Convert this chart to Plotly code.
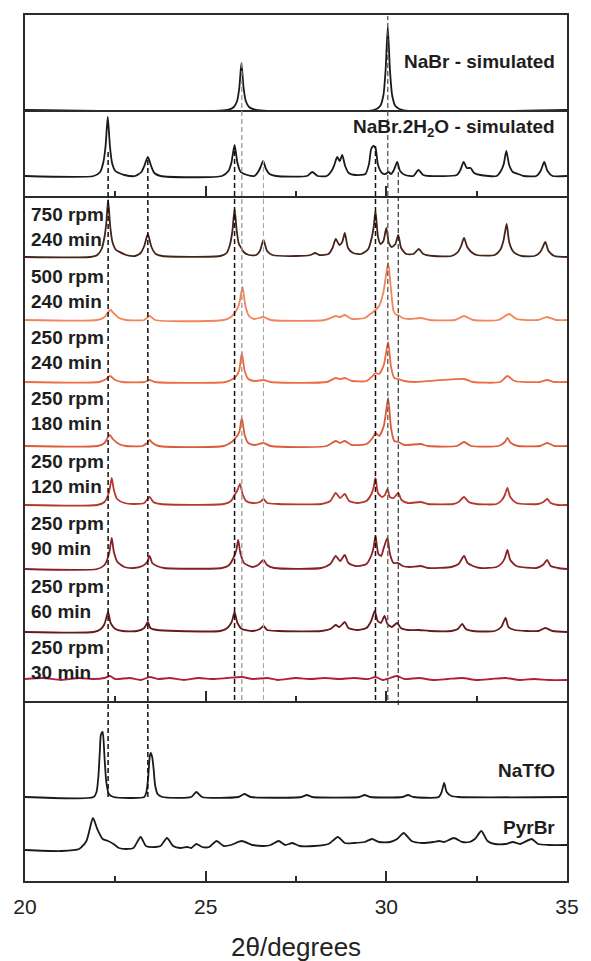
import plotly.graph_objects as go

# ---------------- data (2theta, intensity above each pattern's own baseline, a.u.) ----------------
NABR_SIM = [(20,0),(25.6,0),(25.78,3),(25.87,9),(25.93,22),(25.99,47),(26.05,22),(26.11,9),(26.2,3),(26.4,0),
            (29.65,0),(29.83,4),(29.92,15),(29.98,40),(30.04,83),(30.1,40),(30.16,15),(30.25,4),(30.45,0),(35,0)]

HYDRATE_SIM = [(20,0),(21.9,0),(22.08,4),(22.17,14),(22.23,30),(22.29,59),(22.35,30),(22.41,13),(22.5,5),
               (22.6,3),(22.75,1),(23.05,0),(23.22,4),(23.3,10),(23.4,19),(23.5,9),(23.58,3),(23.75,0),
               (25.45,0),(25.63,5),(25.71,13),(25.8,31),(25.88,13),(25.97,4),(26.15,1),(26.35,0),(26.45,4),
               (26.52,9),(26.59,15),(26.67,7),(26.77,2),(26.95,0),(27.8,0),(27.95,4),(28.1,0),(28.35,0),
               (28.5,6),(28.57,12),(28.64,19),(28.71,15),(28.78,21),(28.86,10),(28.96,3),(29.15,1),(29.42,2),
               (29.52,12),(29.58,27),(29.64,30),(29.7,28),(29.77,11),(29.88,3),(29.98,2),(30.06,4),(30.13,2),
               (30.21,6),(30.3,14),(30.38,5),(30.52,1),(30.75,0),(30.89,6),(31.02,1),(31.2,0),(31.95,1),
               (32.05,6),(32.14,14),(32.23,8),(32.33,8),(32.43,3),(32.6,1),(33.05,0),(33.17,5),(33.25,12),
               (33.32,25),(33.4,11),(33.5,4),(33.65,2),(33.8,0),(34.15,0),(34.27,5),(34.37,14),(34.46,5),
               (34.6,0),(35,0)]

RPM750_240 = [(20,0),(21.8,0),(22.0,2),(22.12,8),(22.2,20),(22.25,34),(22.3,57),(22.36,30),(22.42,15),
              (22.52,7),(22.62,5),(22.8,2),(23.05,1),(23.2,4),(23.3,11),(23.4,23),(23.5,10),(23.62,3),(23.8,1),
              (25.4,1),(25.58,4),(25.67,12),(25.74,26),(25.8,48),(25.86,26),(25.92,13),(25.97,10),(26.05,5),
              (26.2,2),(26.4,2),(26.5,6),(26.6,17),(26.7,6),(26.85,2),(27.5,1),(27.9,2),(28.03,4),(28.15,2),
              (28.4,3),(28.51,9),(28.6,18),(28.7,12),(28.78,15),(28.85,24),(28.94,9),(29.08,4),(29.3,3),
              (29.5,8),(29.6,20),(29.65,30),(29.7,46),(29.77,20),(29.84,13),(29.92,16),(30.0,29),(30.07,14),
              (30.15,10),(30.25,13),(30.33,22),(30.41,9),(30.55,3),(30.75,3),(30.9,8),(31.02,3),(31.3,1),
              (31.8,1),(31.98,5),(32.07,11),(32.15,19),(32.24,10),(32.35,5),(32.5,2),(33.0,2),(33.15,7),
              (33.24,16),(33.28,24),(33.33,33),(33.4,15),(33.5,6),(33.6,3),(33.75,1),(34.1,1),(34.26,5),
              (34.33,10),(34.4,15),(34.49,6),(34.65,1),(35,0)]

RPM500_240 = [(20,0),(22.0,0),(22.2,3),(22.3,8),(22.37,10),(22.45,7),(22.6,2),(22.8,0),(23.3,0),(23.45,4),
              (23.6,0),(25.5,0),(25.7,3),(25.82,8),(25.92,15),(26.02,33),(26.1,14),(26.2,4),(26.35,1),(26.6,3),
              (26.8,0),(28.3,0),(28.6,4),(28.72,3),(28.85,5),(29.05,1),(29.4,2),(29.6,7),(29.7,10),(29.8,14),
              (29.92,28),(30.05,57),(30.13,30),(30.2,9),(30.28,5),(30.33,5),(30.45,2),(30.65,1),(30.95,2),
              (31.2,0),(31.9,0),(32.15,4),(32.4,0),(33.1,0),(33.4,6),(33.6,1),(34.2,0),(34.45,3),(34.7,0),(35,0)]

RPM250_240 = [(20,0),(22.05,0),(22.25,3),(22.35,6),(22.5,2),(22.7,0),(23.3,0),(23.45,2),(23.6,0),(25.55,0),
              (25.75,3),(25.85,6),(25.93,12),(26.0,29),(26.08,11),(26.18,3),(26.35,1),(26.6,2),(26.8,0),
              (28.35,0),(28.6,4),(28.72,3),(28.85,4),(29.05,1),(29.45,1),(29.62,6),(29.7,9),(29.8,8),(29.93,17),
              (30.05,40),(30.13,15),(30.22,4),(30.33,3),(30.5,1),(30.8,0),(32.15,3),(32.4,0),(33.15,0),
              (33.35,6),(33.55,1),(34.25,0),(34.45,2),(34.65,0),(35,0)]

RPM250_180 = [(20,0),(22.0,0),(22.2,3),(22.28,8),(22.35,11),(22.43,7),(22.6,2),(22.8,0),(23.25,0),(23.38,3),
              (23.45,6),(23.53,3),(23.7,0),(25.5,0),(25.72,4),(25.85,9),(25.93,14),(26.0,28),(26.08,11),
              (26.18,3),(26.35,1),(26.6,3),(26.8,0),(28.35,0),(28.6,5),(28.72,3),(28.85,5),(29.05,1),(29.45,2),
              (29.62,8),(29.7,13),(29.8,10),(29.93,20),(30.05,48),(30.13,18),(30.22,5),(30.33,4),(30.5,1),
              (30.95,2),(31.15,0),(31.95,0),(32.15,4),(32.35,0),(33.1,0),(33.28,4),(33.35,8),(33.45,3),
              (33.65,0),(34.25,0),(34.45,3),(34.65,0),(35,0)]

RPM250_120 = [(20,0),(22.0,0),(22.2,3),(22.3,10),(22.35,17),(22.4,27),(22.46,15),(22.55,6),(22.75,2),(23.0,1),
              (23.3,2),(23.45,8),(23.55,3),(23.75,1),(25.5,1),(25.7,4),(25.8,10),(25.87,14),(25.95,21),
              (26.02,11),(26.12,4),(26.3,2),(26.5,3),(26.6,6),(26.7,2),(27.0,1),(28.2,1),(28.45,4),(28.6,12),
              (28.72,7),(28.85,11),(28.97,4),(29.2,2),(29.45,4),(29.6,12),(29.65,18),(29.7,27),(29.77,12),
              (29.88,8),(29.96,10),(30.03,16),(30.1,8),(30.2,7),(30.33,12),(30.42,5),(30.6,2),(30.95,3),
              (31.15,1),(31.85,1),(32.0,3),(32.15,8),(32.28,3),(32.5,1),(33.05,1),(33.2,5),(33.28,10),(33.35,17),
              (33.43,8),(33.6,2),(34.2,1),(34.35,3),(34.45,6),(34.55,2),(34.75,0),(35,0)]

RPM250_90 = [(20,0),(22.0,0),(22.2,4),(22.3,12),(22.35,20),(22.4,31),(22.46,17),(22.56,7),(22.75,2),(23.0,1),
             (23.25,3),(23.38,7),(23.45,13),(23.52,6),(23.65,3),(23.85,1),(25.45,1),(25.65,4),(25.78,12),
             (25.85,19),(25.9,29),(25.96,16),(26.06,6),(26.3,2),(26.45,4),(26.6,9),(26.7,4),(26.9,1),(28.2,1),
             (28.45,5),(28.6,13),(28.72,8),(28.85,14),(28.95,6),(29.15,3),(29.45,5),(29.6,15),(29.65,22),
             (29.7,33),(29.78,15),(29.86,13),(29.92,20),(30.03,31),(30.1,15),(30.2,6),(30.33,6),(30.45,3),
             (30.65,2),(30.95,3),(31.15,1),(31.8,2),(32.0,5),(32.15,13),(32.25,6),(32.4,3),(32.6,1),(33.05,2),
             (33.2,6),(33.28,11),(33.35,19),(33.43,9),(33.6,3),(34.15,1),(34.33,4),(34.45,9),(34.55,3),
             (34.75,1),(35,0)]

RPM250_60 = [(20,0),(21.9,0),(22.1,3),(22.2,8),(22.3,20),(22.37,9),(22.5,3),(22.7,1),(23.1,1),(23.3,4),
             (23.4,10),(23.47,4),(23.65,2),(24.2,1),(25.4,1),(25.6,4),(25.72,10),(25.8,20),(25.88,9),(26.0,3),
             (26.3,1),(26.5,3),(26.6,6),(26.7,2),(27.0,1),(28.2,1),(28.45,3),(28.6,7),(28.7,5),(28.85,10),
             (28.95,4),(29.2,2),(29.45,4),(29.58,11),(29.68,21),(29.76,11),(29.85,9),(29.95,16),(30.03,8),
             (30.15,5),(30.3,9),(30.4,4),(30.6,2),(30.9,2),(31.2,1),(31.8,1),(31.98,3),(32.1,8),(32.2,3),
             (32.4,1),(33.0,1),(33.18,5),(33.3,14),(33.38,5),(33.55,2),(34.2,1),(34.4,4),(34.6,1),(35,0)]

RPM250_30 = [(20,0),(20.5,1),(21.0,-1),(21.5,1),(21.9,0),(22.2,1),(22.35,3),(22.5,0),(22.9,1),(23.2,-1),
             (23.45,2),(23.7,0),(24.0,1),(24.4,-1),(24.8,1),(25.2,0),(25.6,1),(26.0,2),(26.3,0),(26.7,1),
             (27.0,-1),(27.5,1),(27.9,0),(28.3,1),(28.7,0),(29.1,1),(29.5,0),(29.7,2),(29.9,-1),(30.1,1),
             (30.3,3),(30.5,0),(30.9,1),(31.3,-1),(31.7,0),(32.1,1),(32.5,-1),(32.9,0),(33.3,1),(33.7,-1),
             (34.1,0),(34.5,-1),(35,-1)]

NATFO = [(20,0),(21.9,0),(21.98,5),(22.03,20),(22.07,45),(22.1,62),(22.15,65),(22.2,40),(22.25,15),(22.32,3),
         (22.45,0),(23.3,0),(23.36,5),(23.41,20),(23.45,40),(23.48,44),(23.52,40),(23.56,28),(23.6,12),
         (23.67,3),(23.8,0),(24.6,0),(24.74,5),(24.9,0),(25.9,0),(26.07,3),(26.25,0),(27.65,0),(27.8,2),
         (27.95,0),(29.25,0),(29.4,2),(29.55,0),(30.45,0),(30.6,2),(30.75,0),(31.45,0),(31.53,5),(31.6,14),
         (31.67,5),(31.8,1),(32.0,0),(35,0)]

PYRBR = [(20,1),(21.0,0),(21.5,2),(21.7,10),(21.88,33),(22.0,22),(22.15,12),(22.3,10),(22.45,7),(22.6,3),
         (22.8,2),(23.0,3),(23.2,14),(23.35,5),(23.6,4),(23.75,5),(23.93,13),(24.1,5),(24.3,3),(24.5,4),
         (24.6,3),(24.74,7),(24.9,4),(25.1,4),(25.3,10),(25.5,5),(25.7,6),(25.99,10),(26.3,6),(26.6,5),
         (26.8,6),(27.02,10),(27.2,6),(27.4,8),(27.6,5),(28.0,5),(28.4,7),(28.66,14),(28.85,8),(29.1,8),
         (29.4,9),(29.6,12),(29.8,9),(30.1,9),(30.3,12),(30.48,18),(30.7,10),(31.0,8),(31.3,9),(31.46,10),
         (31.6,9),(31.87,13),(32.1,9),(32.3,9),(32.45,12),(32.63,20),(32.8,10),(33.0,7),(33.3,7),(33.5,9),
         (33.7,7),(34.02,12),(34.2,7),(34.5,6),(35,6)]

# reference peak positions marked by dashed lines
DASH_X = [22.3, 23.4, 25.8, 26.0, 26.6, 29.7, 30.04, 30.33]

LABELS_MILL = ["750 rpm<br>240 min", "500 rpm<br>240 min", "250 rpm<br>240 min", "250 rpm<br>180 min",
               "250 rpm<br>120 min", "250 rpm<br>90 min", "250 rpm<br>60 min", "250 rpm<br>30 min"]
SERIES_MILL = [RPM750_240, RPM500_240, RPM250_240, RPM250_180, RPM250_120, RPM250_90, RPM250_60, RPM250_30]
TICKS_MAJOR = [20, 25, 30, 35]
TICKS_MINOR = [22.5, 27.5, 32.5]

# ---------------- layout helpers (pixel geometry of the 591x961 page) ----------------
W, H = 591, 961
L, R, T, B = 25, 15, 15, 80
BOT = H - B           # 881
PH = BOT - T          # 866

def py(ypix):
    return (BOT - ypix) / PH

SEP_NABR, SEP_HYD, SEP_MID = 110, 196, 701

MILL_COLORS = ["#45241a", "#f2855a", "#ec6c44", "#dc5b3a", "#b3392f", "#862126", "#661a1f", "#b31d3d"]
MILL_BASELINE_PX = [257, 320, 382, 446, 505, 569, 632, 679]
MILL_LABEL_Y = [227, 288.5, 350, 411.5, 474, 536, 599, 660]

FONT = "Liberation Sans, Arial, sans-serif"
AX = "#2b2b2b"

fig = go.Figure()

def add(series, xa, ya, base, color, width=1.8):
    fig.add_trace(go.Scatter(
        x=[p[0] for p in series], y=[p[1] + base for p in series],
        xaxis=xa, yaxis=ya, mode="lines",
        line=dict(color=color, width=width, shape="spline", smoothing=0.6),
        hoverinfo="skip", showlegend=False))

# bottom panel (offsets in panel units; 1 unit = 1 px)
add(NATFO, "x", "y", BOT - 797, "#1a1a1a")
add(PYRBR, "x", "y", 30, "#1a1a1a")
# middle panel
for s, c, bpx in zip(SERIES_MILL, MILL_COLORS, MILL_BASELINE_PX):
    add(s, "x2", "y2", SEP_MID - bpx, c)
# hydrate panel
add(HYDRATE_SIM, "x3", "y3", SEP_HYD - 176, "#1a1a1a")
# NaBr panel
add(NABR_SIM, "x4", "y4", 0, "#1a1a1a")

common_x = dict(range=[20, 35], showgrid=False, zeroline=False, showline=True, mirror=False,
                linecolor=AX, linewidth=2, tickvals=TICKS_MAJOR, ticks="inside", ticklen=10,
                tickwidth=1.5, tickcolor=AX,
                minor=dict(tickvals=TICKS_MINOR, ticks="inside", ticklen=5, tickwidth=1.5, tickcolor=AX))
common_y = dict(showgrid=False, zeroline=False, showline=True, mirror=True, linecolor=AX, linewidth=2,
                ticks="", showticklabels=False)

fig.update_layout(
    width=W, height=H, margin=dict(l=L, r=R, t=T, b=B),
    paper_bgcolor="white", plot_bgcolor="white",
    font=dict(family=FONT, color="#222"),
    xaxis=dict(**common_x, anchor="y", tickfont=dict(size=21, color="#222"), ticklabelstandoff=6),
    xaxis2=dict(**common_x, anchor="y2", matches="x", showticklabels=False),
    xaxis3=dict(**common_x, anchor="y3", matches="x", showticklabels=False),
    xaxis4=dict(range=[20, 35], anchor="y4", matches="x", showticklabels=False, ticks="",
                showgrid=False, zeroline=False, showline=True, mirror=True, linecolor=AX, linewidth=2),
    yaxis=dict(**common_y, domain=[0, py(SEP_MID)], range=[0, BOT - SEP_MID]),
    yaxis2=dict(**common_y, domain=[py(SEP_MID), py(SEP_HYD)], range=[0, SEP_MID - SEP_HYD]),
    yaxis3=dict(**common_y, domain=[py(SEP_HYD), py(SEP_NABR)], range=[0, SEP_HYD - SEP_NABR]),
    yaxis4=dict(**common_y, domain=[py(SEP_NABR), 1], range=[0, SEP_NABR - T]),
)

# dashed marker lines: color, top px, bottom px, width
DASH_STYLE = [("#111", 150, 797, 1.5), ("#111", 160, 797, 1.5), ("#111", 148, 700, 1.5),
              ("#9a9a9a", 62, 700, 1.3), ("#a8a8a8", 160, 700, 1.1), ("#111", 146, 700, 1.5),
              ("#555", 16, 700, 1.3), ("#222", 165, 705, 1.1)]
for xv, (col, top, bot, w) in zip(DASH_X, DASH_STYLE):
    fig.add_shape(type="line", xref="x", yref="paper", x0=xv, x1=xv, y0=py(bot), y1=py(top),
                  line=dict(color=col, width=w, dash="5px,3px"), layer="above")

ann_font = dict(family=FONT, size=19, color="#1e1e1e")
for txt, yc in zip(LABELS_MILL, MILL_LABEL_Y):
    fig.add_annotation(text="<b>" + txt + "</b>", xref="paper", yref="paper", x=(29 - L) / (W - L - R),
                       y=py(yc), xanchor="left", yanchor="middle", showarrow=False, align="left",
                       font=ann_font)

right_x = (566 - L) / (W - L - R)
for txt, yc in [("NaBr - simulated", 62), ("NaBr.2H<sub>2</sub>O - simulated", 128),
                ("NaTfO", 770), ("PyrBr", 827)]:
    fig.add_annotation(text="<b>" + txt + "</b>", xref="paper", yref="paper", x=right_x, y=py(yc),
                       xanchor="right", yanchor="middle", showarrow=False, font=ann_font)

fig.add_annotation(text="2θ/degrees", xref="paper", yref="paper", x=0.5, y=py(947),
                   xanchor="center", yanchor="middle", showarrow=False,
                   font=dict(family=FONT, size=26, color="#222"))

fig.write_html("out.html")
